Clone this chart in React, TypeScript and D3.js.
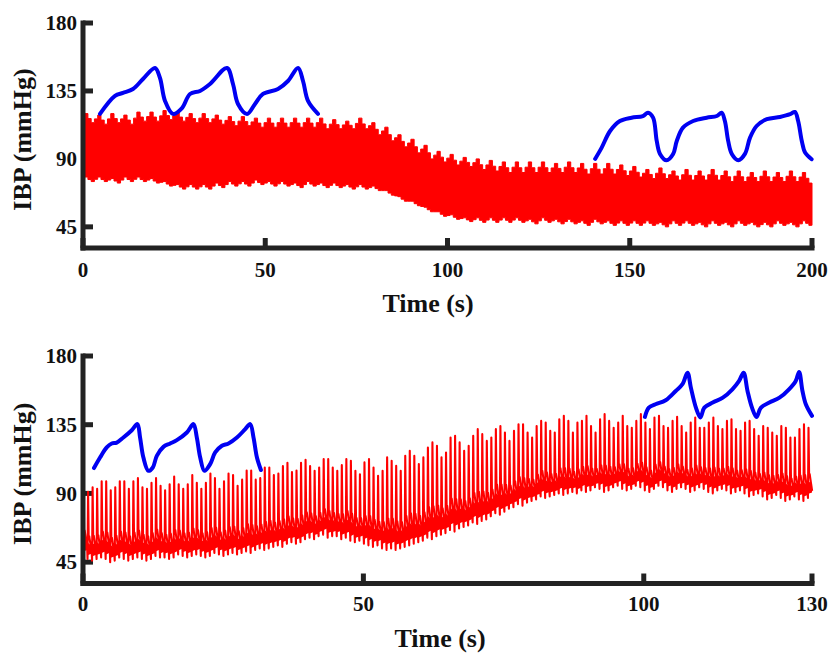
import React from "react";
import * as d3 from "d3";

// ---------------- data ----------------
const yTickValues = [45, 90, 135, 180];
const yMin = 31;
const yMax = 180;

const topTimeTicks = [0, 50, 100, 150, 200];
const bottomTimeTicks = [0, 50, 100, 130];
const topTimeMax = 200;
const bottomTimeMax = 130;

// top recording: envelope read per respiratory cycle
const topBreathStart = 0.9;
const topBreathPeriod = 3.58;
const topUpperCrest = [
  120, 119, 120, 119, 121, 121, 122, 121, 120, 120,
  119, 118, 118, 117, 117, 117, 117, 117, 117, 116,
  115, 117, 114, 111, 106, 103, 99, 95, 93, 91,
  90, 89, 88, 88, 88, 88, 87, 88, 87, 87,
  87, 86, 85, 83, 84, 82, 83, 82, 83, 82,
  82, 81, 82, 81, 82, 81,
];
const topUpperTrough = [
  114, 113, 114, 113, 115, 115, 116, 115, 114, 114,
  113, 112, 112, 111, 111, 111, 111, 111, 110, 110,
  110, 110, 106, 102, 98, 94, 90, 88, 86, 85,
  83, 82, 81, 81, 81, 81, 81, 81, 80, 80,
  80, 79, 78, 77, 77, 76, 76, 76, 76, 75,
  75, 75, 75, 75, 75, 74,
];
const topLowerCrest = [
  78, 78, 77, 78, 78, 77, 75, 73, 73, 73,
  74, 75, 75, 76, 75, 75, 74, 75, 74, 74,
  73, 73, 72, 69, 65, 62, 58, 55, 53, 51,
  51, 51, 51, 51, 50, 51, 50, 50, 49, 50,
  49, 49, 49, 49, 48, 49, 49, 48, 49, 48,
  49, 48, 48, 49, 48, 49,
];
const topLowerTrough = [
  75, 75, 74, 75, 75, 74, 72, 70, 70, 70,
  71, 72, 72, 73, 72, 72, 71, 72, 71, 71,
  70, 70, 69, 66, 62, 59, 55, 52, 50, 48.5,
  48, 48, 48, 48, 47, 48, 47, 47, 46, 47,
  46, 46, 46, 46, 45, 46, 46, 45, 46, 45,
  46, 45, 45, 46, 45, 46,
];

// bottom recording: one systolic / diastolic value per heartbeat
const bottomBeatPeriod = 0.808;
const bottomSystolic = [
  98, 91, 94, 93, 98, 98, 92, 94, 98, 98,
  93, 98, 100, 94, 93, 97, 100, 95, 92, 96,
  101, 96, 93, 96, 102, 97, 93, 97, 103, 100,
  93, 98, 103, 102, 95, 99, 105, 105, 99, 100,
  107, 107, 102, 103, 108, 110, 104, 105, 110, 112,
  108,
  104.8, 107, 112.5, 112.5, 107, 104.8, 108.5, 112.5, 111.4, 104.8,
  102.6, 110.3, 112.5, 107, 101.6, 104.8, 113.6, 111.4, 108.1, 104.8,
  114.6, 117.9, 114.6, 109.2, 113.6, 120, 123.4, 121.2, 113.6, 116.8,
  126.6, 127.7, 123.4, 117.9, 121.2, 127.7, 132.1, 128.8, 124.4, 126.6,
  132.1, 134.2, 129.9, 124.4, 131, 135.3, 135.3, 129.9, 126.6, 134.2,
  137.5, 136.4, 131, 129.9, 138.6, 140.8, 137.5, 129.9, 136.4,
  137.5, 140.8, 134.2, 129.9, 138.6, 141.9, 137.5, 133, 136.4, 140.8,
  134.2, 133, 137.5, 141.9, 136.4, 132.1, 139.7, 140.8, 134.2, 133,
  137.5, 140.2, 134.2, 129.9, 136.4, 139.7, 133, 133, 136.4, 139.7,
  134.2, 132.1, 137.5, 138.6, 132.1, 131, 136.4, 137.5, 132.1, 127.7,
  134.2, 133, 129.9, 127.7, 134.2, 133, 126.6, 126.6, 132.1, 135.3,
  133,
];
const bottomDiastolic = [
  49, 47, 46, 47, 48, 47, 45, 46, 48, 47, 46, 47, 48, 47, 46, 47, 49, 48,
  48, 47, 48, 50, 49, 48, 49, 50, 49, 48, 49, 51, 50, 49, 50, 51, 50,
  51, 52, 51, 53, 54, 53, 54, 55,
  56, 55, 57, 58, 57, 58, 60,
  61, 60, 62, 63, 61, 62, 62, 60,
  61, 59, 58, 59, 57,
  56, 55, 56, 54, 53, 54, 53,
  54, 55, 56, 57, 58,
  59, 61, 60, 62, 63,
  64, 66, 65, 67, 68,
  69, 71, 70, 72, 73,
  75, 77, 76, 78, 80,
  81, 83, 82, 84, 85,
  86, 88, 87, 88, 89,
  90, 89, 90, 91, 90, 92, 91,
  92, 94, 93, 91, 92, 94, 95, 93, 92, 93, 95, 94, 92, 91, 93, 95, 94,
  92, 91, 93, 94, 93, 91, 92, 94, 93, 91, 90, 92, 93, 92, 90, 91, 92,
  90, 88, 89, 90, 88, 86, 87, 89, 87, 85, 86, 88, 86, 85, 87,
];

// blue single-beat insets (time in s, pressure in mmHg of each panel)
const topInsetLeftT = [4.66, 8.78, 10.97, 13.72, 16.46, 19.75, 21.12, 22.5, 24.69, 27.16, 29.36, 32.1, 34.84, 39.5, 41.15, 42.52, 45, 47.19, 49.38, 53.5, 56.24, 59, 60.36, 61.73, 64.47];
const topInsetLeftV = [119.8, 131.7, 133.7, 136.3, 142.9, 150.2, 143.6, 128.4, 119.8, 123.7, 133, 135, 139.6, 150.2, 139.6, 126.4, 119.8, 126.4, 133, 136.3, 141.6, 150.2, 141.6, 128.4, 119.8];
const topInsetRightT = [140.5, 142.3, 144.6, 147.3, 150.5, 153.6, 155, 156.4, 157.4, 158.3, 160.1, 161.9, 162.9, 164.6, 167.4, 171.1, 173.9, 175.2, 176.1, 177, 178, 179.8, 181.6, 183, 184.8, 187.6, 191.2, 194, 195.3, 196.2, 197.2, 198.1, 199.9];
const topInsetRightV = [90, 97.5, 108.5, 115.1, 117.3, 118.4, 120.6, 117.3, 101.9, 93.3, 89.1, 93.3, 101.9, 110.7, 115.1, 117.3, 118.4, 120.6, 115.1, 101.9, 93.3, 89.1, 93.3, 104.1, 111.8, 116.3, 117.8, 119.6, 121.1, 115.1, 101.9, 94.2, 89.8];
const bottomInsetLeftT = [1.96, 3.04, 4.23, 5.13, 6.02, 7.2, 8.7, 9.7, 10.18, 10.77, 11.66, 12.45, 13.16, 14.34, 15.54, 16.73, 18.52, 19.7, 20.3, 20.9, 21.66, 22.68, 23.57, 24.77, 25.95, 27.45, 28.93, 29.82, 30.41, 31.02, 31.73];
const bottomInsetLeftV = [106.6, 113.5, 120.1, 122.7, 123.3, 126.6, 131.4, 135.4, 126.6, 113.5, 104.8, 107, 114.6, 120.5, 122.7, 124.9, 129.9, 135.4, 126.6, 113.5, 104.8, 109.2, 116.8, 121.2, 122.7, 126.6, 132.1, 135.4, 126.6, 113.5, 105.3];
const bottomInsetRightT = [100.2, 100.9, 102.1, 103.9, 105.7, 106.9, 107.8, 108.4, 109.3, 110.1, 110.8, 112.3, 114.1, 115.8, 117, 117.8, 118.5, 119.3, 120.1, 120.9, 122.4, 124.2, 125.9, 127.1, 127.7, 128.3, 128.9, 130];
const bottomInsetRightV = [140.1, 146.2, 148.4, 151, 157.1, 161.5, 169.1, 159.3, 146.2, 139.7, 146.2, 149.5, 152.7, 158.2, 163.7, 169.1, 157.1, 146.2, 140.1, 146.2, 149.5, 152.7, 158.2, 163.7, 169.6, 157.1, 148.4, 140.8];

// ---------------- layout / style ----------------
const W = 828;
const H = 653;
const X0 = 83;
const X1 = 812;
const AXIS = "#222222";
const RED = "#ff0000";
const BLUE = "#0000f2";
const FONT = "'Liberation Serif', 'Times New Roman', serif";

type Env = { t: number; hi: number; lo: number };

type PanelProps = {
  yTop: number;
  yBottom: number;
  xMax: number;
  xTicks: number[];
  titleX: number;
  titleY: number;
  tickLabelOffset: number;
  kind: "top" | "bottom";
};

function Panel({ yTop, yBottom, xMax, xTicks, titleX, titleY, tickLabelOffset, kind }: PanelProps) {
  const x = d3.scaleLinear().domain([0, xMax]).range([X0, X1]);
  const y = d3.scaleLinear().domain([yMin, yMax]).range([yBottom, yTop]);
  const axisY = y(yMin);

  let dataEl: React.ReactNode = null;
  let insets: { t: number[]; v: number[] }[] = [];

  if (kind === "top") {
    // stepped teeth per respiratory cycle (beat-sized steps)
    const P = topBreathPeriod;
    const env: Env[] = [];
    env.push({ t: 0, hi: topUpperTrough[0], lo: topLowerTrough[0] });
    topUpperCrest.forEach((c, i) => {
      const tc = topBreathStart + i * P;
      const ut = topUpperTrough[i];
      const ptr = i > 0 ? topUpperTrough[i - 1] : ut;
      const lc = topLowerCrest[i];
      const lt = topLowerTrough[i];
      const plt = i > 0 ? topLowerTrough[i - 1] : lt;
      const steps: [number, number, number][] = [
        [-0.25, ptr + 0.5 * (c - ptr), plt + 0.5 * (lc - plt)],
        [0, c, lc],
        [0.25, ut + 0.45 * (c - ut), lt + 0.45 * (lc - lt)],
        [0.5, ut, lt],
      ];
      steps.forEach(([f, hi, lo]) => {
        const t = tc + f * P;
        if (t > 0 && t < xMax) env.push({ t, hi, lo });
      });
    });
    const last = env[env.length - 1];
    env.push({ t: xMax, hi: last.hi, lo: last.lo });
    const area = d3
      .area<Env>()
      .x((d) => x(d.t))
      .y0((d) => y(d.lo))
      .y1((d) => y(d.hi))
      .curve(d3.curveStep);
    dataEl = <path d={area(env) || ""} fill={RED} stroke={RED} strokeWidth={1} strokeLinejoin="round" />;
    insets = [
      { t: topInsetLeftT, v: topInsetLeftV },
      { t: topInsetRightT, v: topInsetRightV },
    ];
  } else {
    const P = bottomBeatPeriod;
    const pts: [number, number][] = [];
    const band: Env[] = [];
    bottomSystolic.forEach((sys, k) => {
      const dia = bottomDiastolic[k];
      const a = sys - dia;
      const t0 = k * P;
      pts.push([t0, dia]);
      pts.push([t0 + 0.12 * P, sys]);
      pts.push([t0 + 0.26 * P, dia + 0.3 * a]);
      pts.push([t0 + 0.38 * P, dia + 0.34 * a]);
      pts.push([t0 + 0.65 * P, dia + 0.22 * a]);
      pts.push([t0 + 0.92 * P, dia + 0.1 * a]);
      band.push({ t: t0 + 0.1 * P, lo: dia + 0.06 * a, hi: dia + 0.24 * a });
      band.push({ t: t0 + 0.9 * P, lo: dia + 0.08 * a, hi: dia + 0.2 * a });
    });
    const line = d3
      .line<[number, number]>()
      .x((d) => x(d[0]))
      .y((d) => y(d[1]));
    const area = d3
      .area<Env>()
      .x((d) => x(d.t))
      .y0((d) => y(d.lo))
      .y1((d) => y(d.hi));
    dataEl = (
      <g>
        <path d={area(band) || ""} fill={RED} stroke="none" />
        <path d={line(pts) || ""} fill="none" stroke={RED} strokeWidth={2.1} strokeLinejoin="round" />
      </g>
    );
    insets = [
      { t: bottomInsetLeftT, v: bottomInsetLeftV },
      { t: bottomInsetRightT, v: bottomInsetRightV },
    ];
  }

  return (
    <g>
      {/* ticks (under data) */}
      {yTickValues.map((v) => (
        <line key={"yt" + v} x1={X0} x2={X0 + 10} y1={y(v)} y2={y(v)} stroke={AXIS} strokeWidth={5} />
      ))}
      {xTicks.map((t) => (
        <line key={"xt" + t} x1={x(t)} x2={x(t)} y1={axisY} y2={axisY - 10} stroke={AXIS} strokeWidth={5} />
      ))}
      {dataEl}
      {insets.map((ins, i) => {
        const d = d3
          .line<number>()
          .x((_, j) => x(ins.t[j]))
          .y((vv) => y(vv))
          .curve(d3.curveCatmullRom.alpha(0.5))(ins.v);
        return (
          <path key={"ins" + i} d={d || ""} fill="none" stroke={BLUE} strokeWidth={4} strokeLinecap="round" strokeLinejoin="round" />
        );
      })}
      {/* axis lines */}
      <line x1={X0} x2={X0} y1={y(yMax) - 2.5} y2={axisY + 2.5} stroke={AXIS} strokeWidth={5} />
      <line x1={X0 - 2.5} x2={X1 + 2.5} y1={axisY} y2={axisY} stroke={AXIS} strokeWidth={5} />
      {/* tick labels */}
      {yTickValues.map((v) => (
        <text key={"yl" + v} x={77} y={y(v)} dy="0.35em" textAnchor="end" fontFamily={FONT} fontWeight="bold" fontSize={21} fill="#111">
          {v}
        </text>
      ))}
      {xTicks.map((t) => (
        <text key={"xl" + t} x={x(t)} y={axisY + tickLabelOffset} textAnchor="middle" fontFamily={FONT} fontWeight="bold" fontSize={21} fill="#111">
          {t}
        </text>
      ))}
      <text
        transform={`translate(31,${(yTop + yBottom) / 2 + 4}) rotate(-90)`}
        textAnchor="middle"
        fontFamily={FONT}
        fontWeight="bold"
        fontSize={26}
        fill="#111"
      >
        IBP (mmHg)
      </text>
      <text x={titleX} y={titleY} textAnchor="middle" fontFamily={FONT} fontWeight="bold" fontSize={26} fill="#111">
        Time (s)
      </text>
    </g>
  );
}

export default function App() {
  return (
    <svg
      width={W}
      height={H}
      viewBox={`0 0 ${W} ${H}`}
      style={{ position: "absolute", left: 0, top: 0, background: "#ffffff" }}
    >
      <rect width={W} height={H} fill="#ffffff" />
      <Panel
        kind="top"
        yTop={23}
        yBottom={248}
        xMax={topTimeMax}
        xTicks={topTimeTicks}
        titleX={428}
        titleY={312}
        tickLabelOffset={29}
      />
      <Panel
        kind="bottom"
        yTop={356}
        yBottom={583.5}
        xMax={bottomTimeMax}
        xTicks={bottomTimeTicks}
        titleX={440}
        titleY={647}
        tickLabelOffset={27}
      />
    </svg>
  );
}
